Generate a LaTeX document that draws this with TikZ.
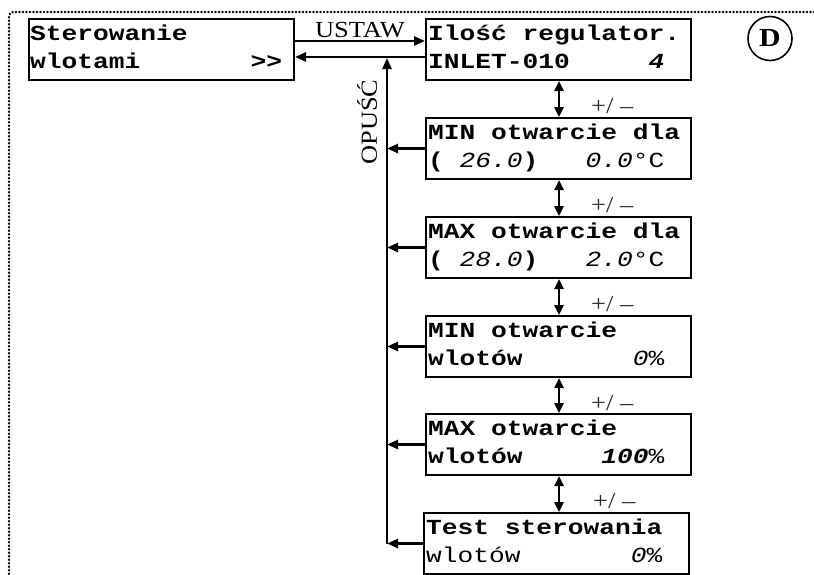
\documentclass[tikz,border=0pt]{standalone}
\usepackage{fontspec}
\usetikzlibrary{arrows.meta,calc}
\newfontfamily\lcdfont[FakeStretch=1.22]{Liberation Mono}
\newfontfamily\lblfont[FakeStretch=1.15]{Liberation Serif}
\begin{document}
\begin{tikzpicture}[x=1pt,y=-1pt,
  lcd/.style={draw, line width=2pt, minimum width=265pt, minimum height=61pt, inner sep=0pt, anchor=north west},
  txt/.style={inner sep=0pt, anchor=base west, font=\lcdfont\fontsize{21.5}{29}\selectfont},
  arr/.style={line width=2.4pt, -{Triangle[length=11pt,width=9pt]}},
  arrtwo/.style={line width=2.4pt, {Triangle[length=10pt,width=9pt]}-{Triangle[length=10pt,width=9pt]}},
  pm/.style={inner sep=0pt, anchor=west, font=\lblfont\fontsize{23}{23}\selectfont, text=black!85},
  lbl/.style={inner sep=0pt, font=\lblfont\fontsize{23}{23}\selectfont}
]
\useasboundingbox (0,0) rectangle (814,574);
% dotted frame
\draw[line width=2.3pt, dash pattern=on 0.4pt off 3.1pt, line cap=round, rounded corners=4pt]
  (9,574) -- (9,12) -- (814,12);
% boxes
\node[lcd] (L) at (28,18) {};
\node[lcd] (b1) at (425,18) {};
\node[lcd] (b2) at (425,117) {};
\node[lcd] (b3) at (425,216) {};
\node[lcd] (b4) at (425,315) {};
\node[lcd] (b5) at (425,413) {};
\node[lcd] (b6) at (423,512) {};
% texts
\node[txt] (La) at ($(L.north west)+(2,22)$) {\bfseries Sterowanie};
\node[txt] (Lb) at ($(L.north west)+(2,50)$) {\bfseries wlotami~~~~~~~>{}>};
\node[txt] (t1a) at ($(b1.north west)+(3,22)$) {\bfseries Ilość regulator.};
\node[txt] (t1b) at ($(b1.north west)+(3,50)$) {\bfseries INLET-010~~~~~\textit{4}};
\node[txt] (t2a) at ($(b2.north west)+(3,22)$) {\bfseries MIN otwarcie dla};
\node[txt] (t2b) at ($(b2.north west)+(3,50)$) {\bfseries (~{\mdseries\itshape 26.0})~~~{\mdseries\itshape 0.0}{\mdseries °C}};
\node[txt] (t3a) at ($(b3.north west)+(3,22)$) {\bfseries MAX otwarcie dla};
\node[txt] (t3b) at ($(b3.north west)+(3,50)$) {\bfseries (~{\mdseries\itshape 28.0})~~~{\mdseries\itshape 2.0}{\mdseries °C}};
\node[txt] (t4a) at ($(b4.north west)+(3,22)$) {\bfseries MIN otwarcie};
\node[txt] (t4b) at ($(b4.north west)+(3,50)$) {\bfseries wlotów~~~~~~~{\mdseries\itshape 0}{\mdseries\%}};
\node[txt] (t5a) at ($(b5.north west)+(3,22)$) {\bfseries MAX otwarcie};
\node[txt] (t5b) at ($(b5.north west)+(3,50)$) {\bfseries wlotów~~~~~{\itshape 100}{\mdseries\%}};
\node[txt] (t6a) at ($(b6.north west)+(3,22)$) {\bfseries Test sterowania};
\node[txt] (t6b) at ($(b6.north west)+(3,50)$) {wlotów~~~~~~~\textit{0}\%};
% D circle
\node[draw, circle, line width=1.6pt, minimum size=44pt, inner sep=0pt,
      font=\lblfont\fontsize{26}{26}\selectfont\bfseries] (D) at (770,38.5) {D};
% coordinates
\coordinate (yu) at (0,41);
\coordinate (yr) at (0,57);
\coordinate (vx) at (387,0);
\coordinate (ax) at (559,0);
% USTAW / return
\draw[arr] (L.east |- yu) -- (b1.west |- yu);
\draw[arr] (b1.west |- yr) -- (L.east |- yr);
\node[lbl, anchor=base] (ust) at (360,37) {USTAW};
% vertical OPUSC line
\draw[arr] (vx |- b6.west) -- ($(vx |- yr)+(0,1)$);
\foreach \b in {b2,b3,b4,b5,b6}{
  \draw[arr] (\b.west) -- (vx |- \b.west);
}
\node[lbl, rotate=90] (op) at (367,122) {OPUŚĆ};
% double arrows
\draw[arrtwo] (ax |- b1.south) -- (ax |- b2.north);
\draw[arrtwo] (ax |- b2.south) -- (ax |- b3.north);
\draw[arrtwo] (ax |- b3.south) -- (ax |- b4.north);
\draw[arrtwo] (ax |- b4.south) -- (ax |- b5.north);
\draw[arrtwo] (ax |- b5.south) -- (ax |- b6.north);
\node[pm] (p1) at ($(b1.south west)+(166,25)$) {+/ –};
\node[pm] (p2) at ($(b2.south west)+(166,25)$) {+/ –};
\node[pm] (p3) at ($(b3.south west)+(166,25)$) {+/ –};
\node[pm] (p4) at ($(b4.south west)+(166,25)$) {+/ –};
\node[pm] (p5) at ($(b5.south west)+(168,25)$) {+/ –};
\end{tikzpicture}
\end{document}
